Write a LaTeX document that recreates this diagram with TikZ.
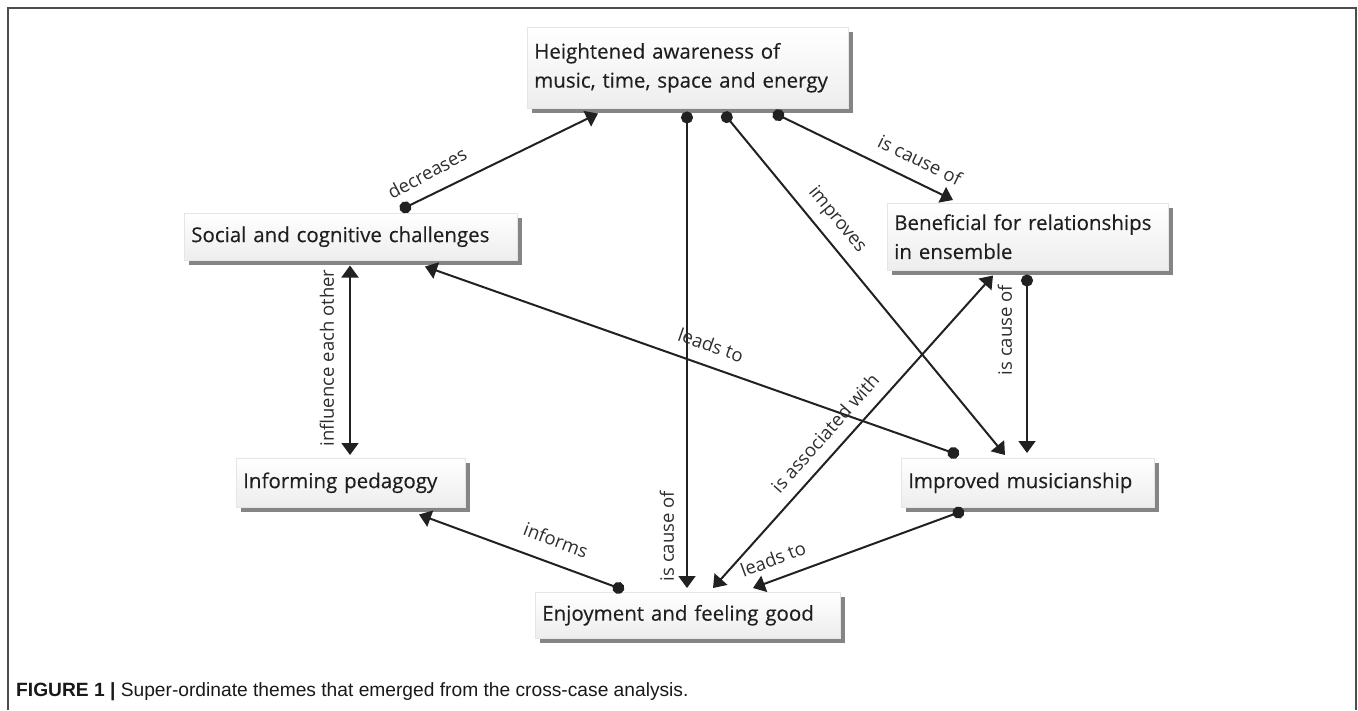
\documentclass[tikz,border=0pt]{standalone}
\usepackage{fontspec}
\setmainfont{Open Sans}
\newfontfamily\boxfont[FakeBold=0.25]{Open Sans}
\newfontfamily\capfont{Liberation Sans}
\usetikzlibrary{arrows.meta,shadows,calc}
\begin{document}
\begin{tikzpicture}[x=1pt,y=-1pt,
  box/.style={anchor=north west, inner xsep=7pt, inner ysep=0pt, align=left,
    text=black!88, font=\boxfont\fontsize{20.5}{29}\selectfont,
    top color=white, bottom color=black!7, draw=black!10, line width=0.5pt,
    general shadow={fill=black!48, shadow xshift=5pt, shadow yshift=-5pt}},
  conn/.style={line width=2pt, draw=black!87},
  dotarrow/.style={conn, {Circle[length=12pt]}-{Triangle[length=12pt,width=17pt]}},
  twoarrow/.style={conn, {Triangle[length=12pt,width=17pt]}-{Triangle[length=12pt,width=17pt]}},
  lbl/.style={font=\fontsize{18.5}{20}\selectfont, text=black!82, inner sep=0pt},
]
\useasboundingbox (0,0) rectangle (1358,710);
\draw[black!70, line width=1.5pt] (8,710) -- (8,8) -- (1356,8) -- (1356,710);

\node[box, text width=307pt, minimum height=81pt] (H) at (527,27) {Heightened awareness of\\music, time, space and energy};
\node[box, text width=319pt, minimum height=47pt] (S) at (184,213) {Social and cognitive challenges};
\node[box, text width=267pt, minimum height=67pt] (B) at (887,203) {Beneficial for relationships\\in ensemble};
\node[box, text width=215pt, minimum height=49pt] (I) at (236,458) {Informing pedagogy};
\node[box, text width=239pt, minimum height=49pt] (M) at (901,458) {Improved musicianship};
\node[box, text width=291pt, minimum height=46pt] (E) at (535,592) {Enjoyment and feeling good};

\draw[dotarrow] ($(S.north west)+(216,-3)$) -- ($(H.south west)+(71,5)$);
\draw[dotarrow] ($(H.south west)+(160,3)$) -- ($(E.north west)+(152,-4)$);
\draw[dotarrow] ($(H.south west)+(196,4)$) -- ($(M.north west)+(104,-3)$);
\draw[dotarrow] ($(H.south west)+(246,4)$) -- ($(B.north west)+(66,-3)$);
\draw[twoarrow] ($(S.south west)+(166,5)$) -- ($(I.north west)+(114,-3)$);
\draw[dotarrow] ($(M.north west)+(58,-3)$) -- ($(S.south west)+(241,6)$);
\draw[dotarrow] ($(M.south west)+(63,3)$) -- ($(E.north west)+(218,-4)$);
\draw[dotarrow] ($(E.north west)+(89,-2)$) -- ($(I.south west)+(183,7)$);
\draw[dotarrow] ($(B.south west)+(140,4)$) -- ($(M.north west)+(126,-5)$);
\draw[twoarrow] ($(B.south west)+(106,5)$) -- ($(E.north west)+(178,-4)$);

\node[lbl, rotate=28] (l1) at (427,173) {decreases};
\node[lbl, rotate=90] (l2) at (667,536) {is cause of};
\node[lbl, rotate=-50.6] (l3) at (837,220) {improves};
\node[lbl, rotate=-26] (l4) at (920,160) {is cause of};
\node[lbl, rotate=90] (l5) at (327,358) {influence each other};
\node[lbl, rotate=-19.5] (l6) at (711,345) {leads to};
\node[lbl, rotate=48.3] (l7) at (825,433) {is associated with};
\node[lbl, rotate=90] (l8) at (1005,330) {is cause of};
\node[lbl, rotate=-20.6] (l9) at (556,540) {informs};
\node[lbl, rotate=20.4] (l10) at (773,559) {leads to};

\node[anchor=base west, inner sep=0pt, text=black!90, font=\capfont\fontsize{19.2}{21}\selectfont] (cap) at (16,696) {\textbf{FIGURE 1 |} Super-ordinate themes that emerged from the cross-case analysis.};
\end{tikzpicture}
\end{document}
